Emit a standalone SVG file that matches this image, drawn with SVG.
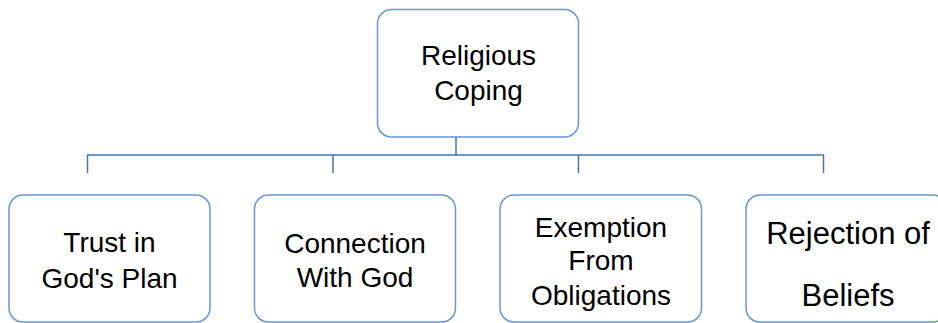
<svg xmlns="http://www.w3.org/2000/svg" width="938" height="323" viewBox="0 0 938 323">
<style>
.box{fill:#fff;stroke:#6A95D6;stroke-width:1.5}
.ln{fill:none;stroke:#4A74B8;stroke-width:1.5}
text{font-family:"Liberation Sans",Arial,sans-serif;font-size:28px;fill:#000;text-anchor:middle}
.big{font-size:31px}
</style>
<rect width="938" height="323" fill="#fff"/>
<g id="connectors">
<path class="ln" d="M456 137V155M87.5 173V155H823.5V173M333 155V173M578.5 155V173"/>
</g>
<g id="religious-coping">
<rect class="box" x="377.5" y="9.5" width="201" height="127.5" rx="14"/>
<text x="478.5" y="65">Religious</text>
<text x="478.5" y="100">Coping</text>
</g>
<g id="trust">
<rect class="box" x="9" y="195" width="201" height="127" rx="14"/>
<text x="109.5" y="252">Trust in</text>
<text x="109.5" y="288">God's Plan</text>
</g>
<g id="connection">
<rect class="box" x="254.5" y="195" width="201" height="127" rx="14"/>
<text x="355" y="253">Connection</text>
<text x="355" y="287">With God</text>
</g>
<g id="exemption">
<rect class="box" x="500" y="195" width="201.5" height="127" rx="14"/>
<text x="601" y="236.5">Exemption</text>
<text x="601" y="270">From</text>
<text x="601" y="305">Obligations</text>
</g>
<g id="rejection">
<rect class="box" x="746" y="195" width="201" height="127" rx="14"/>
<text class="big" x="848" y="244">Rejection of</text>
<text class="big" x="848" y="306">Beliefs</text>
</g>
</svg>
